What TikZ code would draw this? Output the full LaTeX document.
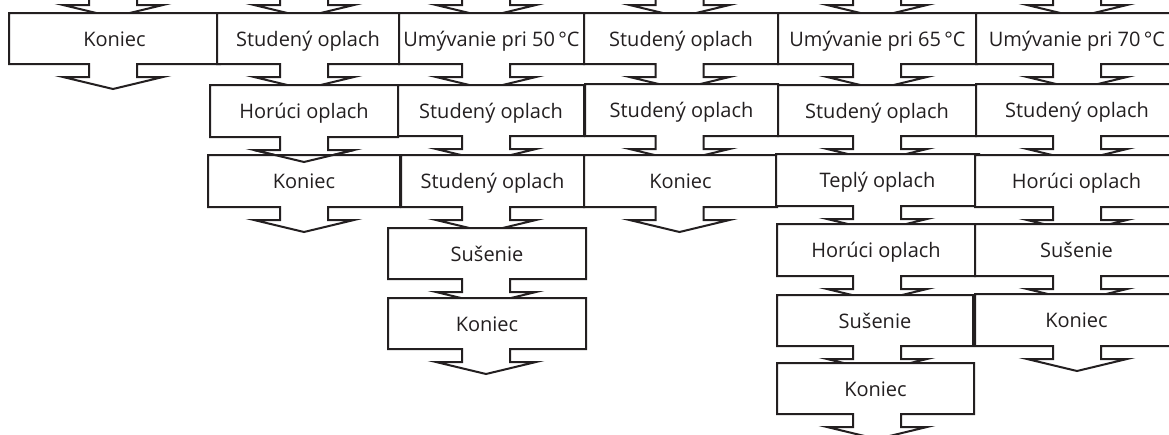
\documentclass[tikz,border=0pt]{standalone}
\usepackage{fontspec}
\setmainfont{Open Sans}
\definecolor{ink}{RGB}{35,31,32}
\newcommand{\arrowbox}[7]{% L T R B cx name text
  \filldraw[boxline] (#1,#2) -- (#3,#2) -- (#3,#4) -- ({#5+24},#4) -- ({#5+24},{#4+13})
    -- ({#5+50},{#4+13}) -- (#5,{#4+25}) -- ({#5-50},{#4+13}) -- ({#5-24},{#4+13})
    -- ({#5-24},#4) -- (#1,#4) -- cycle;
  \node[boxtext] (#6) at ({(#1+#3)/2},{(#2+#4)/2+7.5}) {#7};
}
\begin{document}
\begin{tikzpicture}[x=1pt,y=-1pt,
  boxline/.style={draw=ink,fill=white,line width=2pt,line join=miter},
  boxtext/.style={anchor=base,inner sep=0pt,text=ink,font=\fontsize{20}{24}\selectfont}]
\useasboundingbox (0,0) rectangle (1169,434);
\clip (0,0) rectangle (1169,434);
% incoming arrows from above
\arrowbox{9}{-60}{220}{-8}{113}{p1}{}
\arrowbox{217}{-60}{399}{-8}{304}{p2}{}
\arrowbox{399}{-60}{584}{-8}{486}{p3}{}
\arrowbox{584}{-60}{778}{-8}{679.5}{p4}{}
\arrowbox{778}{-60}{977}{-8}{877}{p5}{}
\arrowbox{976}{-60}{1178}{-8}{1077}{p6}{}
% row 1
\arrowbox{9}{13}{220}{64}{113}{a1}{Koniec}
\arrowbox{217}{13}{399}{64}{304}{b1}{Studený oplach}
\arrowbox{399}{13}{584}{64}{486}{c1}{Umývanie pri 50\,°C}
\arrowbox{584}{13}{778}{64}{679.5}{d1}{Studený oplach}
\arrowbox{778}{13}{977}{64}{877}{e1}{Umývanie pri 65\,°C}
\arrowbox{976}{13}{1178}{64}{1077}{f1}{Umývanie pri 70\,°C}
% row 2
\arrowbox{210}{85}{398}{137}{304}{b2}{Horúci oplach}
\arrowbox{398}{85}{584}{136}{486}{c2}{Studený oplach}
\arrowbox{585}{84}{778}{136}{679.5}{d2}{Studený oplach}
\arrowbox{778}{85}{976}{136}{877}{e2}{Studený oplach}
\arrowbox{976}{84}{1178}{136}{1077}{f2}{Studený oplach}
% row 3
\arrowbox{208}{155}{400}{207}{304}{b3}{Koniec}
\arrowbox{401}{155}{584}{207}{486}{c3}{Studený oplach}
\arrowbox{584}{155}{777}{207}{679.5}{d3}{Koniec}
\arrowbox{776}{154}{979}{206}{877}{e3}{Teplý oplach}
\arrowbox{975}{155}{1178}{207}{1077}{f3}{Horúci oplach}
% tip of the arrow from b2 drawn over b3
\draw[draw=ink,line width=2pt] (254,150) -- (304,162) -- (354,150);
% row 4
\arrowbox{388}{228}{586}{279}{486}{c4}{Sušenie}
\arrowbox{777}{224}{975}{276}{877}{e4}{Horúci oplach}
\arrowbox{975}{224}{1178}{276}{1077}{f4}{Sušenie}
% row 5
\arrowbox{388}{298}{586}{349}{486}{c5}{Koniec}
\arrowbox{777}{295}{973}{346}{877}{e5}{Sušenie}
\arrowbox{975}{294}{1178}{346}{1077}{f5}{Koniec}
% row 6
\arrowbox{777}{363}{974}{414}{877}{e6}{Koniec}
\end{tikzpicture}
\end{document}
